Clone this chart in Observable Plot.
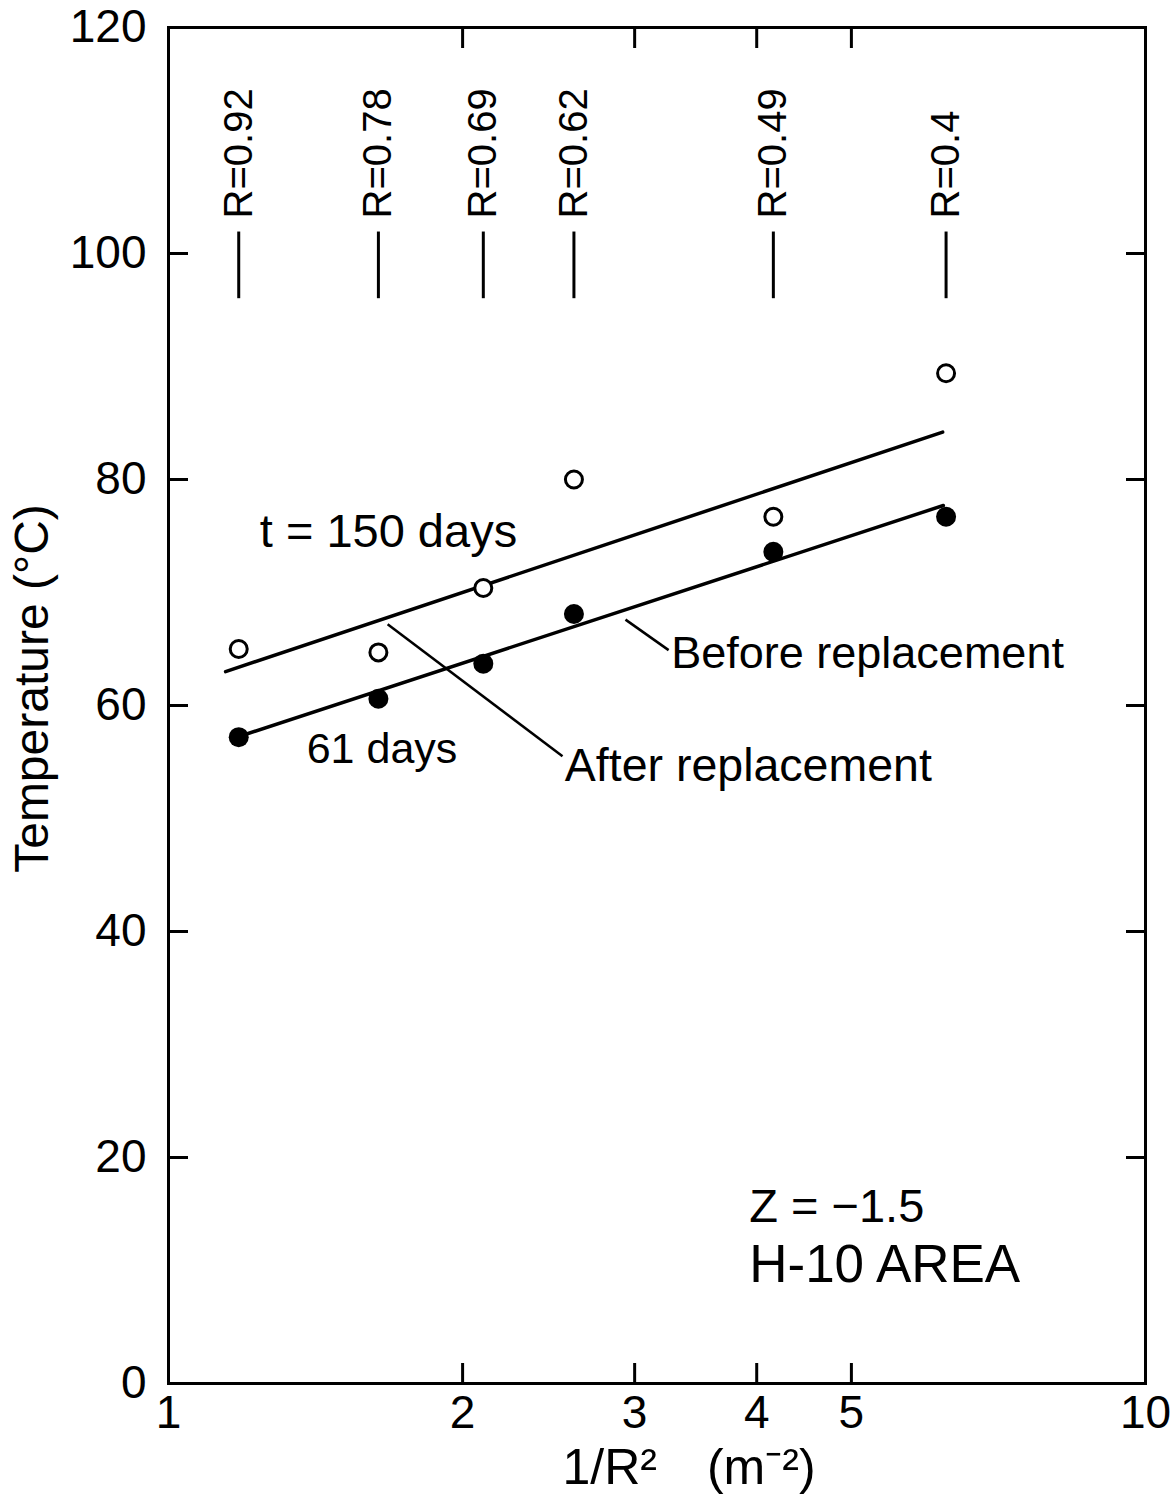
<!DOCTYPE html>
<html>
<head>
<meta charset="utf-8">
<script src="https://cdn.jsdelivr.net/npm/d3@7"></script>
<script src="https://cdn.jsdelivr.net/npm/@observablehq/plot@0.6"></script>
<style>
  body { margin: 0; background: #fff; }
  #chart svg { display: block; }
</style>
</head>
<body>
<div id="chart"></div>
<script>
// ---- data ----
const rValues = [0.92, 0.78, 0.69, 0.62, 0.49, 0.4];
const rLabels = ["R=0.92", "R=0.78", "R=0.69", "R=0.62", "R=0.49", "R=0.4"];
const invR2 = [1.18, 1.64, 2.10, 2.60, 4.16, 6.25];          // 1/R^2 (m^-2)
const temp150days = [65.0, 64.7, 70.4, 80.0, 76.7, 89.4];    // open circles
const temp61days = [57.2, 60.6, 63.7, 68.1, 73.6, 76.7];     // filled circles

const fit150X = [1.144, 6.20];
const fit150Y = [63.0, 84.2];
const fit61X = [1.185, 6.21];
const fit61Y = [57.3, 77.7];

const xTickValues = [1, 2, 3, 4, 5, 10];
const xInnerTicks = [2, 3, 4, 5];
const yTickValues = [0, 20, 40, 60, 80, 100, 120];
const yInnerTicks = [20, 40, 60, 80, 100];

const rMarkerBottom = 96.0;
const rMarkerTop = 101.9;
const rLabelStart = 103.1;

const leaderX1 = [2.936, 1.676];
const leaderY1 = [67.6, 67.2];
const leaderX2 = [3.25, 2.531];
const leaderY2 = [64.9, 55.5];

const noteText = ["t = 150 days", "61 days", "Before replacement", "After replacement", "Z = \u22121.5", "H-10 AREA"];
const noteX = [1.240, 1.385, 3.270, 2.545, 3.93, 3.93];
const noteY = [74.0, 54.9, 63.3, 53.3, 14.25, 8.94];
const noteSize = [47, 43, 45, 46.5, 47, 53];

// ---- build tables ----
const points150 = invR2.map((x, i) => ({x, y: temp150days[i]}));
const points61 = invR2.map((x, i) => ({x, y: temp61days[i]}));
const line150 = fit150X.map((x, i) => ({x, y: fit150Y[i]}));
const line61 = fit61X.map((x, i) => ({x, y: fit61Y[i]}));
const rTable = invR2.map((x, i) => ({x, r: rValues[i], label: rLabels[i]}));
const leaders = leaderX1.map((x1, i) => ({x1, y1: leaderY1[i], x2: leaderX2[i], y2: leaderY2[i]}));
const notes = noteText.map((t, i) => ({t, x: noteX[i], y: noteY[i], s: noteSize[i]}));

const font = "'Liberation Sans', Arial, Helvetica, sans-serif";

const chart = Plot.plot({
  width: 1172,
  height: 1497,
  marginLeft: 168,
  marginRight: 27,
  marginTop: 27,
  marginBottom: 114,
  style: {background: "white", fontFamily: font, color: "black", overflow: "visible"},
  x: {type: "log", domain: [1, 10]},
  y: {domain: [0, 120]},
  marks: [
    Plot.frame({strokeWidth: 3}),
    // tick labels
    Plot.axisY(yTickValues, {anchor: "left", tickSize: 0, tickPadding: 22, fontSize: 46, label: null}),
    Plot.axisX(xTickValues, {anchor: "bottom", tickSize: 0, tickPadding: 12, fontSize: 46, label: null, tickFormat: d => String(d)}),
    // inward ticks
    Plot.axisY(yInnerTicks, {anchor: "left", tickSize: -20, strokeWidth: 3, tickFormat: () => "", label: null}),
    Plot.axisY(yInnerTicks, {anchor: "right", tickSize: -20, strokeWidth: 3, tickFormat: () => "", label: null}),
    Plot.axisX(xInnerTicks, {anchor: "bottom", tickSize: -20, strokeWidth: 3, tickFormat: () => "", label: null}),
    Plot.axisX(xInnerTicks, {anchor: "top", tickSize: -20, strokeWidth: 3, tickFormat: () => "", label: null}),
    // R markers
    Plot.ruleX(rTable, {x: "x", y1: rMarkerBottom, y2: rMarkerTop, strokeWidth: 3}),
    Plot.text(rTable, {x: "x", y: rLabelStart, text: "label", rotate: -90, textAnchor: "start", fontSize: 40}),
    // fitted lines
    Plot.line(line150, {x: "x", y: "y", strokeWidth: 3.5}),
    Plot.line(line61, {x: "x", y: "y", strokeWidth: 3.5}),
    // leader lines
    Plot.link(leaders, {x1: "x1", y1: "y1", x2: "x2", y2: "y2", strokeWidth: 2.5}),
    // data points
    Plot.dot(points150, {x: "x", y: "y", r: 8.5, stroke: "black", fill: "white", strokeWidth: 3}),
    Plot.dot(points61, {x: "x", y: "y", r: 10, fill: "black", stroke: "none"}),
    // annotations
    Plot.text(notes, {x: "x", y: "y", text: "t", fontSize: "s", textAnchor: "start", lineAnchor: "bottom"}),
    // axis titles
    Plot.text(["Temperature (\u00B0C)"], {frameAnchor: "left", dx: -136, dy: -17, rotate: -90, textAnchor: "middle", fontSize: 48}),
    Plot.text(["1/R\u00B2\u2003(m\u207B\u00B2)"], {frameAnchor: "bottom", dx: 32, dy: 100, lineAnchor: "bottom", textAnchor: "middle", fontSize: 50})
  ]
});

document.getElementById("chart").appendChild(chart);
</script>
</body>
</html>
